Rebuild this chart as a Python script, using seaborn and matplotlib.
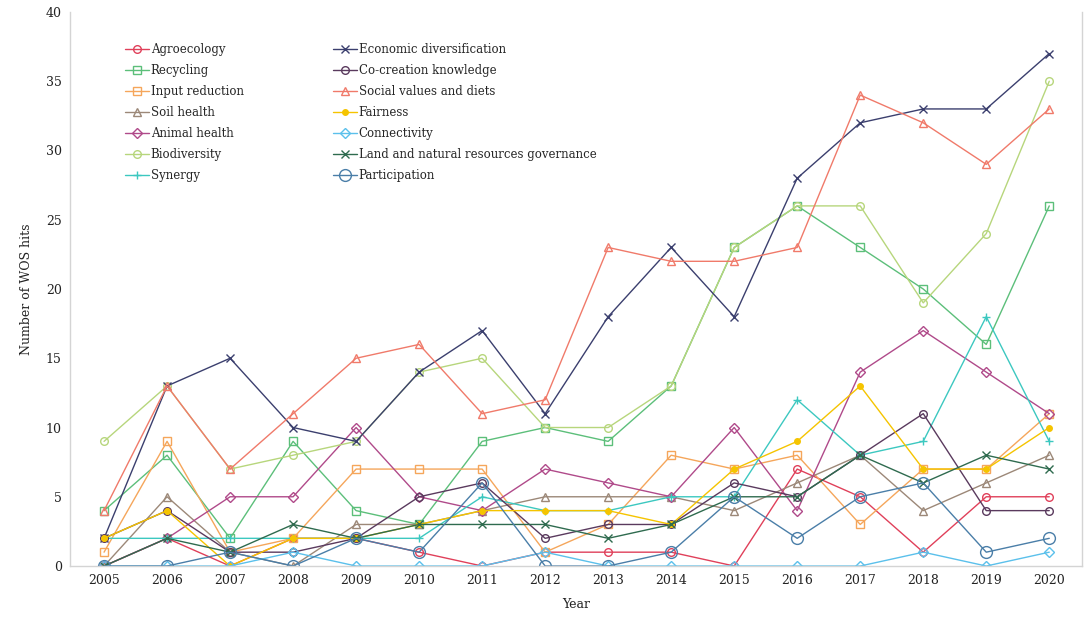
import matplotlib
matplotlib.use("Agg")
import matplotlib.pyplot as plt
import seaborn as sns
import pandas as pd

years = list(range(2005, 2021))

agroecology      = [0, 2, 0, 2, 2, 1, 0, 1, 1, 1, 0, 7, 5, 1, 5, 5]
recycling        = [4, 8, 2, 9, 4, 3, 9, 10, 9, 13, 23, 26, 23, 20, 16, 26]
input_reduction  = [1, 9, 1, 2, 7, 7, 7, 1, 3, 8, 7, 8, 3, 7, 7, 11]
soil_health      = [0, 5, 1, 0, 3, 3, 4, 5, 5, 5, 4, 6, 8, 4, 6, 8]
animal_health    = [0, 2, 5, 5, 10, 5, 4, 7, 6, 5, 10, 4, 14, 17, 14, 11]
biodiversity     = [9, 13, 7, 8, 9, 14, 15, 10, 10, 13, 23, 26, 26, 19, 24, 35]
synergy          = [2, 2, 2, 2, 2, 2, 5, 4, 4, 5, 5, 12, 8, 9, 18, 9]
economic_div     = [2, 13, 15, 10, 9, 14, 17, 11, 18, 23, 18, 28, 32, 33, 33, 37]
co_creation      = [2, 4, 1, 1, 2, 5, 6, 2, 3, 3, 6, 5, 8, 11, 4, 4]
social_values    = [4, 13, 7, 11, 15, 16, 11, 12, 23, 22, 22, 23, 34, 32, 29, 33]
fairness         = [2, 4, 0, 2, 2, 3, 4, 4, 4, 3, 7, 9, 13, 7, 7, 10]
connectivity     = [0, 0, 0, 1, 0, 0, 0, 1, 0, 0, 0, 0, 0, 1, 0, 1]
land_governance  = [0, 2, 1, 3, 2, 3, 3, 3, 2, 3, 5, 5, 8, 6, 8, 7]
participation    = [0, 0, 1, 0, 2, 1, 6, 0, 0, 1, 5, 2, 5, 6, 1, 2]

series_names = ["Agroecology", "Recycling", "Input reduction", "Soil health",
                "Animal health", "Biodiversity", "Synergy",
                "Economic diversification", "Co-creation knowledge",
                "Social values and diets", "Fairness", "Connectivity",
                "Land and natural resources governance", "Participation"]
series_values = [agroecology, recycling, input_reduction, soil_health,
                 animal_health, biodiversity, synergy, economic_div,
                 co_creation, social_values, fairness, connectivity,
                 land_governance, participation]

styles = {
    "Agroecology": dict(color="#e0405a", marker="o", ms=5.5, mfc="none"),
    "Recycling": dict(color="#5cbf7a", marker="s", ms=5.5, mfc="none"),
    "Input reduction": dict(color="#f5a65b", marker="s", ms=5.5, mfc="none"),
    "Soil health": dict(color="#9c8878", marker="^", ms=5.5, mfc="none"),
    "Animal health": dict(color="#b04a8a", marker="D", ms=5.5, mfc="none"),
    "Biodiversity": dict(color="#b7d67c", marker="o", ms=5.5, mfc="none"),
    "Synergy": dict(color="#3cc8c0", marker="+", ms=6, mfc="none"),
    "Economic diversification": dict(color="#3b3f6e", marker="x", ms=5.5, mfc="none"),
    "Co-creation knowledge": dict(color="#5a3a5e", marker="o", ms=5.5, mfc="none"),
    "Social values and diets": dict(color="#f07a6a", marker="^", ms=5.5, mfc="none"),
    "Fairness": dict(color="#f5c400", marker="o", ms=4, mfc="#f5c400"),
    "Connectivity": dict(color="#5bc0eb", marker="D", ms=5.5, mfc="none"),
    "Land and natural resources governance": dict(color="#2f6b4f", marker="x", ms=5.5, mfc="none"),
    "Participation": dict(color="#4a7ea8", marker="o", ms=8.5, mfc="none"),
}

sns.set_theme(style="white")
plt.rcParams["font.family"] = ["DejaVu Serif"]

fig = plt.figure(figsize=(10.89, 6.18), dpi=100)
ax = fig.add_axes([0.0643, 0.0841, 0.9293, 0.8965])

for name, vals in zip(series_names, series_values):
    st = styles[name]
    df = pd.DataFrame({"Year": years, "Hits": vals})
    sns.lineplot(data=df, x="Year", y="Hits", ax=ax, color=st["color"],
                 marker=st["marker"], markersize=st["ms"],
                 markerfacecolor=st["mfc"], markeredgecolor=st["color"],
                 markeredgewidth=1.0, linewidth=1.0, label=name)

ax.set_xlim(2004.46, 2020.52)
ax.set_ylim(0, 40)
ax.set_xticks(years)
ax.set_xticklabels([str(y) for y in years])
ax.set_yticks(range(0, 41, 5))
ax.tick_params(axis="both", labelsize=9, length=0, colors="#222222", pad=6)
ax.set_xlabel("Year", fontsize=9, color="#222222", labelpad=8)
ax.set_ylabel("Number of WOS hits", fontsize=9, color="#222222", labelpad=9)
for side in ["left", "bottom", "right"]:
    ax.spines[side].set_color("#d4d4d4")
    ax.spines[side].set_linewidth(1.0)
ax.spines["top"].set_visible(False)

leg = ax.legend(loc="upper left", bbox_to_anchor=(0.05, 0.952), ncol=2,
                frameon=False, fontsize=8.5, handlelength=2.0,
                handletextpad=0.15, columnspacing=7.6, labelspacing=0.68,
                borderaxespad=0)
for line in leg.get_lines():
    line.set_linewidth(1.0)

fig.savefig("out.png", dpi=100)
